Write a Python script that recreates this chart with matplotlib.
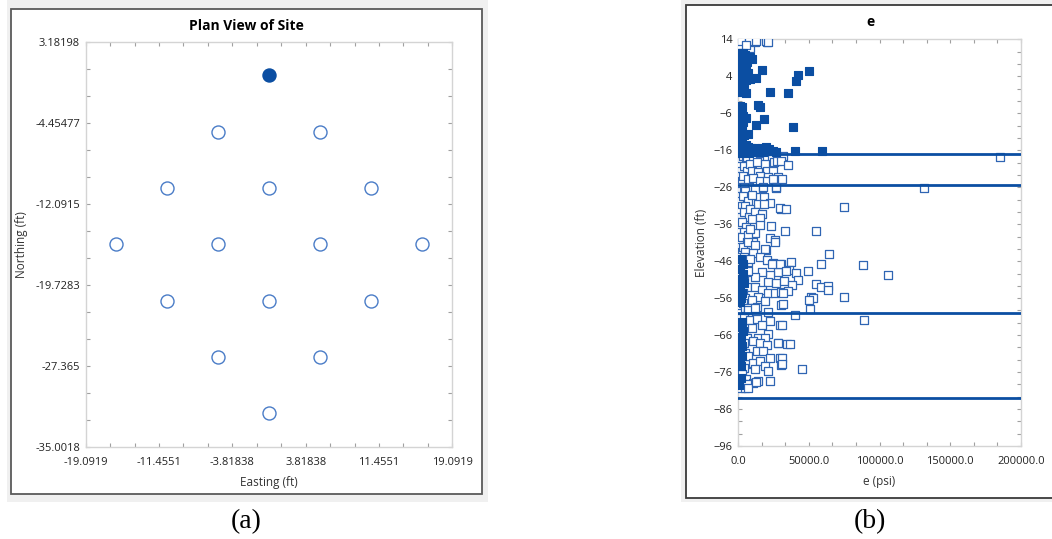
import matplotlib.pyplot as plt
import numpy as np
from matplotlib.patches import Rectangle
from matplotlib.ticker import AutoMinorLocator, FixedLocator, FormatStrFormatter

plt.rcParams['font.family'] = ['Open Sans', 'DejaVu Sans']

# plan view: boring locations (ft)
east = [0.0, -5.3033, 5.3033, -10.6066, 0.0, 10.6066, -15.9099, -5.3033,
        5.3033, 15.9099, -10.6066, 0.0, 10.6066, -5.3033, 5.3033, 0.0]
north = [0.0, -5.3033, -5.3033, -10.6066, -10.6066, -10.6066, -15.9099, -15.9099,
         -15.9099, -15.9099, -21.2132, -21.2132, -21.2132, -26.5165, -26.5165, -31.8198]
selected = [True] + [False] * 15

plan_ticks = [-19.0919, -11.4551, -3.81838, 3.81838, 11.4551, 19.0919]
plan_xlabels = ['-19.0919', '-11.4551', '-3.81838', '3.81838', '11.4551', '19.0919']
plan_yticks = [-35.0018, -27.365, -19.7283, -12.0915, -4.45477, 3.18198]
plan_ylabels = ['-35.0018', '-27.365', '-19.7283', '-12.0915', '-4.45477', '3.18198']

# e (psi) vs elevation (ft): selected boring (filled) and the rest (open)
sel_e = [1200, 3400, 5200, 8600, 10200, 1800, 4300, 6400, 1000, 3900, 5600,
         2200, 4700, 6900, 1300, 3600, 8700, 5800, 2000, 4200, 1100,
         16700, 12700, 42500, 41300, 50000,
         1500, 4200, 6000, 22500, 35000,
         1500, 3000, 13800, 15500,
         1500, 3800, 1200, 3200, 5600, 1600, 3000, 1400, 3900, 6800, 12700, 18500, 39000,
         1000, 3000, 5500, 1500, 4000, 7000, 9500, 12000, 14500, 17000, 19500, 22000,
         24500, 27000, 8000, 13000, 18000, 3000, 40100, 59400,
         1800, 3500, 1500, 3200, 2000, 4000, 1600, 3000, 2200, 1400,
         2600, 1500, 3300, 2000, 1200, 2800, 1700, 3100, 1300, 2400, 1800, 1000]
sel_elev = [10.4, 10.2, 9.8, 9.3, 8.7, 9.0, 8.5, 8.0, 7.5, 7.1, 6.6,
            6.0, 5.4, 4.9, 4.6, 4.1, 3.4, 3.0, 2.7, 2.2, 1.8,
            5.7, 3.6, 4.3, 2.7, 5.5,
            -0.35, -0.35, -0.4, -0.35, -0.4,
            -4.0, -4.4, -3.75, -4.4,
            -6.3, -6.6, -8.0, -8.4, -7.2, -9.6, -10.0, -11.6, -11.8, -11.7, -9.2, -7.6, -9.7,
            -14.0, -14.2, -14.6, -15.8, -15.9, -15.2, -15.5, -15.3, -15.7, -15.4, -15.1, -15.6,
            -16.2, -16.5, -16.6, -16.5, -16.4, -16.8, -16.1, -16.1,
            -45.5, -46.8, -48.2, -49.5, -50.8, -52.0, -53.3, -54.6, -55.9, -57.0,
            -62.5, -63.8, -65.0, -66.4, -67.8, -69.0, -70.3, -71.6, -73.0, -74.3, -77.5, -79.5]

# near-zero column of the other borings
col_elev = [-17.6, -18.9, -20.2, -21.6, -23.0, -24.3, -25.8, -27.1, -28.5, -29.8,
            -31.2, -32.6, -34.0, -35.3, -36.7, -38.1, -39.4, -40.8, -42.2, -43.6,
            -44.9, -46.3, -47.7, -49.0, -50.4, -51.8, -53.1, -54.5, -55.9, -57.3,
            -58.6, -60.0, -61.4, -62.7, -64.1, -65.5, -66.8, -68.2, -69.6, -70.9,
            -72.3, -73.7, -75.0, -76.4, -77.8, -79.1, -80.4]
col_e1 = [900, 2400, 700, 1800, 1100, 2700, 800, 2000, 1300, 600,
          2500, 1000, 1900, 700, 2300, 1200, 500, 1700, 900, 2600,
          1100, 1800, 700, 2200, 1300, 600, 2000, 1000, 2400, 800,
          1600, 1100, 2100, 600, 1900, 900, 2500, 1200, 700, 2000,
          1000, 2300, 800, 1500, 2200, 900, 1800]
col_e2 = [3800, 5600, 4100, 6300, 3500, 7600, 4400, 5200, 3300, 6800,
          4700, 3900, 8100, 3100, 5800, 4300, 2900, 6500, 3700, 5000,
          4200, 7200, 3400, 5500, 4000, 2800, 6100, 3600, 4900, 3200,
          5300, 7400, 4100, 3000, 5700, 3800, 6600, 4500, 2900, 5100,
          3500, 7000, 4000, 3100, 5900, 3600, 4800]

# scattered values of the other borings
other_e = [700, 3700, 7300, 1400, 8400, 12000, 20200, 2100, 7700, 12700, 19700, 21100, 5500,
           6100, 10800, 15500, 20200, 24200, 27900, 31900, 8400, 13100, 19000, 25600,
           9600, 14300, 20200, 24900, 15500, 21400, 28400, 27500, 30300,
           7300, 10800, 15500, 20200, 24900, 27200, 16700, 12000, 26800, 9600, 18500,
           22500, 14300, 30700, 8400, 12000, 16700, 9600, 15500, 23200, 22500, 26000,
           12000, 7300, 10800, 15500, 8400, 17600, 18300, 30000, 19700,
           7300, 12000, 19000, 26000, 10800, 8400, 15500, 20200, 24900, 30700, 28400,
           22500, 16700, 12000, 7300, 21400, 27200, 12000, 16700, 21400, 26000, 30700,
           14300, 9600, 19000, 7300, 13100, 29600, 24000,
           7300, 12000, 21400, 30700, 8400, 13100, 22500, 16700, 29600, 9600, 21400,
           14300, 19000, 10800, 15500, 20200, 28400, 13100, 17800, 7300, 22500, 29600,
           30700, 10800, 15500, 19000, 21400, 12000, 14300, 22500, 10800, 6100, 7000,
           12700, 28200,
           185000, 131700, 35000, 31000, 33800, 74700, 33300, 55000, 64000, 59000,
           88500, 106000, 37800, 36000, 33800, 41000, 49800, 32200, 42300, 38000,
           55000, 59000, 63500, 63300, 35000, 31500, 74700, 51400, 52800, 50000,
           31500, 50700, 40600, 88700, 31000, 34500, 36600, 31000, 31000, 45000]
other_elev = [13.8, 13.9, 13.3, 12.4, 11.6, 13.4, 13.4, 13.6, 13.7, 13.6, 13.7, 13.2, 12.5,
              -17.9, -18.4, -18.8, -17.9, -18.4, -18.1, -17.5, -19.7, -19.3, -19.7, -19.3,
              -21.5, -22.0, -21.5, -21.5, -22.9, -23.3, -23.3, -18.9, -19.0,
              -23.9, -23.6, -24.2, -24.2, -23.9, -26.3, -26.3, -26.4, -26.0, -28.2, -28.7,
              -30.2, -30.5, -31.8, -31.8, -32.7, -33.2, -34.5, -34.3, -36.6, -39.7, -40.3,
              -38.5, -39.0, -40.8, -36.3, -37.2, -26.0, -30.4, -31.6, -43.0,
              -40.8, -41.7, -42.8, -40.8, -43.9, -45.3, -44.8, -45.7, -46.6, -46.8, -48.9,
              -49.8, -48.9, -50.2, -48.6, -51.5, -51.8, -52.9, -53.8, -54.7, -54.5, -54.4,
              -55.6, -56.5, -56.9, -58.7, -58.3, -46.7, -46.7,
              -59.1, -58.7, -59.8, -57.8, -61.8, -61.6, -62.1, -63.2, -63.2, -64.1, -65.7,
              -66.8, -66.8, -67.7, -68.1, -68.6, -68.1, -70.4, -70.4, -71.7, -72.2, -72.2,
              -74.0, -73.5, -73.1, -74.4, -75.7, -75.3, -78.4, -78.3, -78.9, -79.3, -80.4,
              -78.6, -68.2,
              -17.7, -26.1, -19.9, -23.9, -32.0, -31.4, -37.8, -37.9, -44.0, -46.8,
              -47.0, -49.7, -46.2, -48.4, -48.7, -49.1, -48.7, -51.3, -51.1, -52.4,
              -52.2, -53.0, -52.8, -53.8, -54.1, -54.6, -55.7, -55.7, -56.0, -56.5,
              -57.5, -58.9, -60.5, -61.8, -63.2, -68.5, -68.3, -72.3, -73.9, -75.3]

layer_tops = [-17.0, -25.5, -60.0, -82.9]

fill_blue = '#0b4ea2'
edge_blue = '#2f65b3'

fig = plt.figure(figsize=(10.52, 5.39), dpi=100)
W, H = 1052, 539


def px_rect(x0, y0, x1, y1, **kw):
    # rectangle given in pixel coordinates measured from the top-left corner
    fig.patches.append(Rectangle((x0 / W, 1 - y1 / H), (x1 - x0) / W, (y1 - y0) / H,
                                 transform=fig.transFigure, zorder=-5, **kw))


# window backgrounds and borders
px_rect(7, 0, 488, 502, facecolor='#f0f0f0', edgecolor='none')
px_rect(11, 9, 482, 494, facecolor='white', edgecolor='#5a5a5a', lw=1.3)
px_rect(681, 0, 1052, 502, facecolor='#f0f0f0', edgecolor='none')
px_rect(686, 4.5, 1056, 498, facecolor='white', edgecolor='#3a3a3a', lw=1.3)


def style_axes(ax):
    for sp in ax.spines.values():
        sp.set_color('#d4d4d4')
        sp.set_linewidth(1.0)
    ax.tick_params(which='both', direction='in', top=True, right=True,
                   color='#a0a0a0', length=3, width=0.8, labelsize=8,
                   labelcolor='#222222', pad=2)
    ax.tick_params(axis='x', which='major', pad=7)
    ax.tick_params(axis='y', which='major', pad=4)
    ax.set_facecolor('white')


# (a) plan view
ax1 = fig.add_axes([85.7 / W, 1 - 447 / H, 366.6 / W, 405.5 / H])
style_axes(ax1)
open_idx = [i for i, s in enumerate(selected) if not s]
sel_idx = [i for i, s in enumerate(selected) if s]
ax1.scatter([east[i] for i in open_idx], [north[i] for i in open_idx], s=88,
            facecolors='white', edgecolors='#4a7cc7', linewidths=1.0, zorder=3)
ax1.scatter([east[i] for i in sel_idx], [north[i] for i in sel_idx], s=88,
            facecolors=fill_blue, edgecolors=fill_blue, linewidths=1.0, zorder=3)
ax1.set_xlim(plan_ticks[0], plan_ticks[-1])
ax1.set_ylim(plan_yticks[0], plan_yticks[-1])
ax1.xaxis.set_major_locator(FixedLocator(plan_ticks))
ax1.set_xticklabels(plan_xlabels)
ax1.yaxis.set_major_locator(FixedLocator(plan_yticks))
ax1.set_yticklabels(plan_ylabels)
ax1.xaxis.set_minor_locator(AutoMinorLocator(3))
ax1.yaxis.set_minor_locator(AutoMinorLocator(3))
ax1.set_xlabel('Easting (ft)', fontsize=8.5, color='#333333', labelpad=6)
ax1.set_ylabel('Northing (ft)', fontsize=8.5, color='#333333', labelpad=5)
fig.text(246 / W, 1 - 26 / H, 'Plan View of Site', ha='center', va='center',
         fontsize=10, fontweight='bold')

# (b) e profile
ax2 = fig.add_axes([738 / W, 1 - 446 / H, 283 / W, 406.6 / H])
style_axes(ax2)
ax2.scatter(col_e1 + col_e2 + other_e, col_elev + col_elev + other_elev, marker='s', s=26,
            facecolors='white', edgecolors=edge_blue, linewidths=0.9, zorder=3)
ax2.scatter(sel_e, sel_elev, marker='s', s=26, facecolors=fill_blue,
            edgecolors=fill_blue, linewidths=0.8, zorder=4)
for y in layer_tops:
    ax2.axhline(y, color=fill_blue, lw=2.0, zorder=5)
ax2.set_xlim(0, 200000)
ax2.set_ylim(-96, 14)
ax2.set_xticks([0, 50000, 100000, 150000, 200000])
ax2.xaxis.set_major_formatter(FormatStrFormatter('%.1f'))
ax2.set_yticks(list(range(14, -97, -10)))
ax2.xaxis.set_minor_locator(AutoMinorLocator(3))
ax2.yaxis.set_minor_locator(AutoMinorLocator(3))
ax2.set_xlabel('e (psi)', fontsize=8.5, color='#333333', labelpad=6)
ax2.set_ylabel('Elevation (ft)', fontsize=8.5, color='#333333', labelpad=4)
fig.text(871 / W, 1 - 22 / H, 'e', ha='center', va='center',
         fontsize=10, fontweight='bold')

# panel captions
fig.text(246 / W, 1 - 522 / H, '(a)', ha='center', va='center',
         fontsize=20, family='Liberation Serif')
fig.text(870 / W, 1 - 522 / H, '(b)', ha='center', va='center',
         fontsize=20, family='Liberation Serif')

fig.savefig('out.png', dpi=100)
